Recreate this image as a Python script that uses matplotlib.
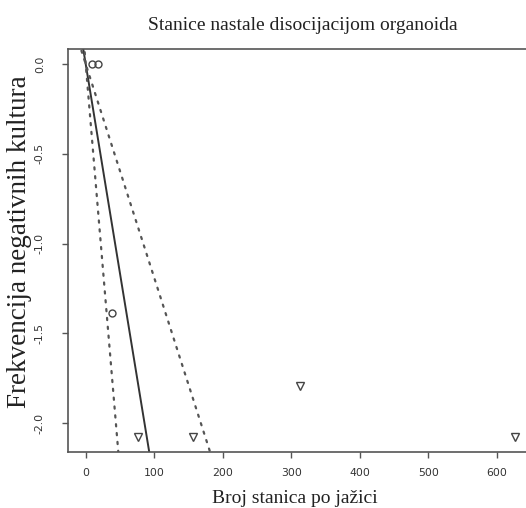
import matplotlib
matplotlib.use("Agg")
import matplotlib.pyplot as plt
import numpy as np

plt.rcParams['axes.unicode_minus'] = False

# Data
circle_x = [9, 18, 38]
circle_y = [0.0, 0.0, -1.386]
tri_x = [77, 156, 313, 626]
tri_y = [-2.079, -2.079, -1.792, -2.079]
slope_fit = -0.0233
slope_lo = -0.0454
slope_hi = -0.0119
xticks = [0, 100, 200, 300, 400, 500, 600]
yticks = [0.0, -0.5, -1.0, -1.5, -2.0]
title = "Stanice nastale disocijacijom organoida"
xlabel = "Broj stanica po jažici"
ylabel = "Frekvencija negativnih kultura"

W, H = 526, 508
fig = plt.figure(figsize=(W/100, H/100), dpi=100)
left, right, top, bottom = 68.3, 537.8, 49.3, 452.0
ax = fig.add_axes([left/W, 1-bottom/H, (right-left)/W, (bottom-top)/H])

col = '#444444'
xx = np.array([-30, 700])
ax.plot(xx, slope_fit*xx, color='#333333', lw=1.4)
ax.plot(xx, slope_lo*xx, color='#555555', lw=1.6, linestyle=(0, (1.0, 3.0)), dash_capstyle='round')
ax.plot(xx, slope_hi*xx, color='#555555', lw=1.6, linestyle=(0, (1.0, 3.0)), dash_capstyle='round')

ax.plot(circle_x, circle_y, linestyle='none', marker='o', ms=5, mfc='none', mec=col, mew=1.0)
ax.plot(tri_x, tri_y, linestyle='none', marker='v', ms=5.5, mfc='none', mec=col, mew=1.0)

ax.set_xlim(-25.4, 660)
ax.set_ylim(-2.161, 0.082)
ax.set_xticks(xticks)
ax.set_xticklabels([str(v) for v in xticks])
ax.set_yticks(yticks)
ax.set_yticklabels([f"{v:.1f}" for v in yticks], rotation=90, va='center')

for s in ax.spines.values():
    s.set_color('#555555')
    s.set_linewidth(1.2)

ax.tick_params(axis='both', direction='out', length=4.3, width=1.0, color='#555555',
               labelsize=7.8, labelcolor='#333333')
ax.tick_params(axis='x', pad=7.5)
ax.tick_params(axis='y', pad=12.5)

serif = ['Liberation Serif', 'DejaVu Serif']
fig.text(303/W, 1-25/H, title, ha='center', va='center', family=serif, fontsize=14, color='#222222')
fig.text(295/W, 1-503/H, xlabel, ha='center', va='baseline', family=serif, fontsize=14, color='#222222')
fig.text(20/W, 1-242/H, ylabel, ha='center', va='center', rotation=90, family=serif, fontsize=19.5, color='#222222')

fig.savefig('out.png', dpi=100)
